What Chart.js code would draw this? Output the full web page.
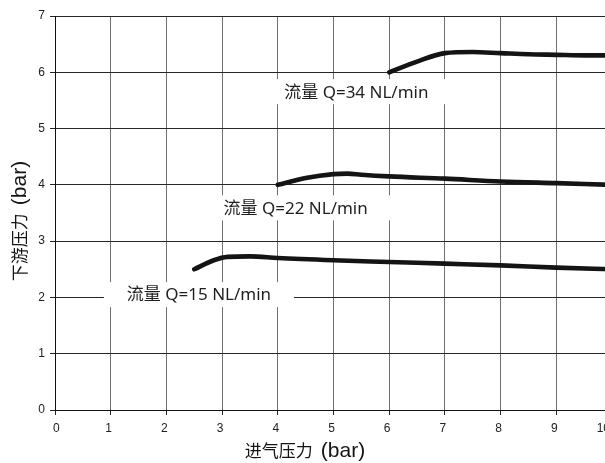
<!DOCTYPE html>
<html>
<head>
<meta charset="utf-8">
<script src="https://cdn.jsdelivr.net/npm/chart.js@4/dist/chart.umd.min.js"></script>
<style>
  html, body { margin: 0; padding: 0; background: #fff; overflow: hidden; width: 605px; height: 463px; }
  #wrap { position: absolute; left: 0; top: 0; width: 630px; height: 463px; }
</style>
</head>
<body>
<div id="wrap"><canvas id="c" width="630" height="463"></canvas></div>
<script>
// Inlet pressure (bar) vs downstream pressure (bar) for three flow rates
const flowRates = [15, 22, 34];

const inlet15  = [2.5, 2.85, 3.1, 3.5, 4, 5, 6, 7, 8, 9, 10];
const outlet15 = [2.5, 2.66, 2.72, 2.73, 2.70, 2.66, 2.63, 2.60, 2.57, 2.53, 2.50];

const inlet22  = [4, 4.5, 5, 5.25, 5.5, 6, 7, 8, 9, 10];
const outlet22 = [4.0, 4.12, 4.19, 4.20, 4.18, 4.15, 4.11, 4.06, 4.03, 4.00];

const inlet34  = [6, 6.5, 7, 7.5, 8, 8.5, 9, 9.5, 10];
const outlet34 = [6.0, 6.19, 6.34, 6.36, 6.34, 6.32, 6.31, 6.30, 6.30];

const xTickValues = [0, 1, 2, 3, 4, 5, 6, 7, 8, 9, 10];
const yTickValues = [0, 1, 2, 3, 4, 5, 6, 7];

const xTitleCjk = '进气压力', yTitleCjk = '下游压力', titleUnit = '(bar)';

const pairs = (xs, ys) => xs.map((x, i) => ({ x, y: ys[i] }));
const flowText = q => '流量 Q=' + q + ' NL/min';

// White-backed callouts naming each curve
const flowLabels = {
  id: 'flowLabels',
  beforeDatasetsDraw(chart, args, opts) {
    const { ctx, scales: { x, y } } = chart;
    ctx.save();
    ctx.font = opts.font;
    ctx.textAlign = 'center';
    ctx.textBaseline = 'middle';
    opts.items.forEach(it => {
      const cx = x.getPixelForValue(it.at[0]);
      const cy = y.getPixelForValue(it.at[1]);
      const w = ctx.measureText(it.text).width + opts.padX * 2;
      const h = opts.boxHeight;
      ctx.fillStyle = '#ffffff';
      ctx.fillRect(cx - w / 2, cy - h / 2, w, h);
      ctx.fillStyle = opts.color;
      ctx.fillText(it.text, cx, cy + 1);
    });
    ctx.restore();
  }
};

// Axis captions: CJK words with the unit in a Latin face
const axisCaptions = {
  id: 'axisCaptions',
  afterDraw(chart, args, opts) {
    const { ctx, chartArea } = chart;
    const drawCaption = (cjk, unit, cx, cy, rot) => {
      ctx.save();
      ctx.translate(cx, cy);
      ctx.rotate(rot);
      ctx.fillStyle = opts.color;
      ctx.textBaseline = 'middle';
      ctx.textAlign = 'left';
      ctx.font = opts.cjkFont;
      const w1 = ctx.measureText(cjk).width;
      ctx.font = opts.unitFont;
      const w2 = ctx.measureText(unit).width;
      const total = w1 + opts.gap + w2;
      const sx = -total / 2;
      ctx.font = opts.cjkFont;
      ctx.fillText(cjk, sx, 0);
      ctx.font = opts.unitFont;
      ctx.fillText(unit, sx + w1 + opts.gap, 0);
      ctx.restore();
    };
    drawCaption(xTitleCjk, titleUnit, chartArea.left + 250, 451, 0);
    drawCaption(yTitleCjk, titleUnit, 20, 221, -Math.PI / 2);
  }
};

const lineStyle = {
  borderColor: '#141414',
  borderWidth: 4.6,
  pointRadius: 0,
  cubicInterpolationMode: 'monotone',
  borderCapStyle: 'round',
  borderJoinStyle: 'round',
  fill: false
};

new Chart(document.getElementById('c'), {
  type: 'line',
  data: {
    datasets: [
      { label: flowText(flowRates[0]), data: pairs(inlet15, outlet15), ...lineStyle },
      { label: flowText(flowRates[1]), data: pairs(inlet22, outlet22), ...lineStyle },
      { label: flowText(flowRates[2]), data: pairs(inlet34, outlet34), ...lineStyle }
    ]
  },
  plugins: [flowLabels, axisCaptions],
  options: {
    responsive: false,
    animation: false,
    devicePixelRatio: 1,
    layout: { padding: { top: 16, right: 18, left: 0, bottom: 0 } },
    plugins: {
      legend: { display: false },
      tooltip: { enabled: false },
      flowLabels: {
        font: "17px 'Noto Sans', 'Noto Sans CJK SC', sans-serif",
        color: '#1e1e1e',
        padX: 23,
        boxHeight: 25,
        items: [
          { text: flowText(flowRates[0]), at: [2.585, 2.05] },
          { text: flowText(flowRates[1]), at: [4.32, 3.59] },
          { text: flowText(flowRates[2]), at: [5.41, 5.655] }
        ]
      },
      axisCaptions: {
        color: '#141414',
        cjkFont: "17px 'Noto Sans CJK SC', sans-serif",
        unitFont: "21px 'Liberation Sans', sans-serif",
        gap: 8
      }
    },
    scales: {
      x: {
        type: 'linear',
        min: 0,
        max: 10,
        afterBuildTicks: s => { s.ticks = xTickValues.map(v => ({ value: v })); },
        afterFit: s => { s.height = 53; },
        ticks: {
          font: { family: "'Liberation Sans', sans-serif", size: 12 },
          color: '#222',
          padding: 6,
          maxRotation: 0,
          autoSkip: false,
          align: 'inner',
          labelOffset: -2
        },
        grid: { color: '#707070', lineWidth: 1, tickLength: 5, tickColor: '#222' },
        border: { color: '#111', width: 1 }
      },
      y: {
        type: 'linear',
        min: 0,
        max: 7,
        afterBuildTicks: s => { s.ticks = yTickValues.map(v => ({ value: v })); },
        afterFit: s => { s.width = 55; },
        ticks: {
          font: { family: "'Liberation Sans', sans-serif", size: 12 },
          color: '#222',
          padding: 5,
          autoSkip: false
        },
        grid: { color: '#262626', lineWidth: 1, tickLength: 5, tickColor: '#222' },
        border: { color: '#111', width: 1 }
      }
    }
  }
});
</script>
</body>
</html>
